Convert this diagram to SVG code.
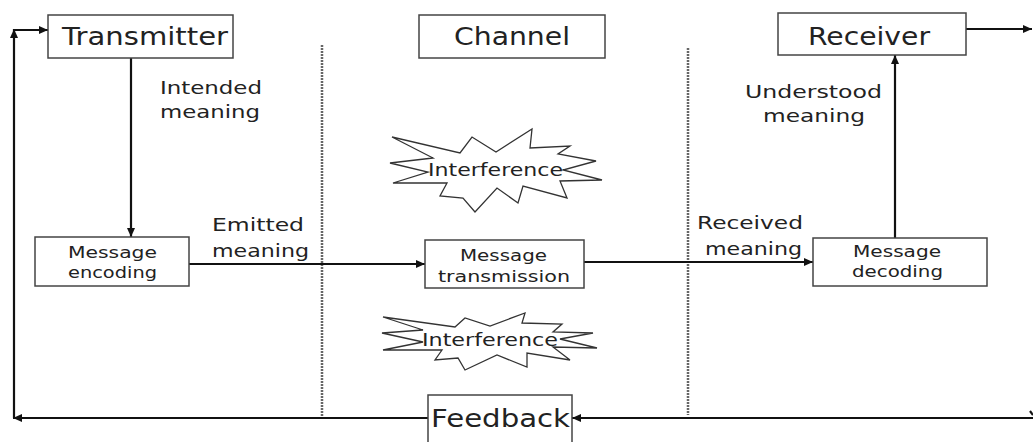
<svg xmlns="http://www.w3.org/2000/svg" width="1033" height="442" viewBox="0 0 1033 442">
  <style>
    .box { fill: #fff; stroke: #444; stroke-width: 1.5; }
    .big { font-family: "DejaVu Sans", sans-serif; font-size: 24px; fill: #222; }
    .lbl { font-family: "DejaVu Sans", sans-serif; font-size: 18px; fill: #222; }
    .sm { font-family: "DejaVu Sans", sans-serif; font-size: 15px; fill: #222; }
    .link { fill: none; stroke: #111; stroke-width: 2.2; }
    .divider { stroke: #666; stroke-width: 2.5; stroke-dasharray: 2 1; }
    .burst { fill: #fff; stroke: #333; stroke-width: 1.3; stroke-linejoin: miter; }
  </style>
  <defs>
    <marker id="arrow" markerUnits="userSpaceOnUse" markerWidth="10" markerHeight="10" viewBox="0 0 10 10" refX="9" refY="5" orient="auto">
      <path d="M0,1 L9,5 L0,9 Z" fill="#111"/>
    </marker>
  </defs>
  <rect width="1033" height="442" fill="#fff"/>

  <!-- zone dividers -->
  <g id="dividers">
    <line class="divider" x1="322" y1="45" x2="322" y2="418"/>
    <line class="divider" x1="688" y1="48" x2="688" y2="415"/>
  </g>

  <!-- connectors -->
  <g id="connectors">
    <line class="link" x1="131" y1="58" x2="131" y2="237" marker-end="url(#arrow)"/>
    <line class="link" x1="189" y1="264" x2="425" y2="264" marker-end="url(#arrow)"/>
    <line class="link" x1="584" y1="262" x2="813" y2="262" marker-end="url(#arrow)"/>
    <line class="link" x1="895" y1="238" x2="895" y2="55" marker-end="url(#arrow)"/>
    <line class="link" x1="966" y1="29" x2="1032" y2="29" marker-end="url(#arrow)"/>
    <line class="link" x1="1033" y1="418" x2="572" y2="418" marker-end="url(#arrow)"/>
    <line class="link" x1="428" y1="418" x2="13" y2="418" marker-end="url(#arrow)"/>
    <line class="link" x1="14" y1="418" x2="14" y2="29" marker-end="url(#arrow)"/>
    <line class="link" x1="13" y1="30" x2="48" y2="30" marker-end="url(#arrow)"/>
    <line class="link" x1="1030" y1="411" x2="1033" y2="415"/>
  </g>

  <g id="transmitter">
    <rect class="box" x="48" y="15" width="185" height="43"/>
    <text class="big" x="62" y="45" textLength="166" lengthAdjust="spacingAndGlyphs">Transmitter</text>
  </g>
  <g id="channel">
    <rect class="box" x="419" y="15" width="186" height="43"/>
    <text class="big" x="454" y="45" textLength="116" lengthAdjust="spacingAndGlyphs">Channel</text>
  </g>
  <g id="receiver">
    <rect class="box" x="778" y="13" width="188" height="42"/>
    <text class="big" x="808" y="45" textLength="122" lengthAdjust="spacingAndGlyphs">Receiver</text>
  </g>

  <g id="intended-meaning">
    <text class="lbl" x="160" y="94" textLength="102" lengthAdjust="spacingAndGlyphs">Intended</text>
    <text class="lbl" x="160" y="118" textLength="100" lengthAdjust="spacingAndGlyphs">meaning</text>
  </g>
  <g id="understood-meaning">
    <text class="lbl" x="745" y="98" textLength="137" lengthAdjust="spacingAndGlyphs">Understood</text>
    <text class="lbl" x="763" y="122" textLength="102" lengthAdjust="spacingAndGlyphs">meaning</text>
  </g>
  <g id="emitted-meaning">
    <text class="lbl" x="212" y="231" textLength="92" lengthAdjust="spacingAndGlyphs">Emitted</text>
    <text class="lbl" x="212" y="257" textLength="97" lengthAdjust="spacingAndGlyphs">meaning</text>
  </g>
  <g id="received-meaning">
    <text class="lbl" x="697" y="229" textLength="106" lengthAdjust="spacingAndGlyphs">Received</text>
    <text class="lbl" x="705" y="255" textLength="97" lengthAdjust="spacingAndGlyphs">meaning</text>
  </g>

  <g id="message-encoding">
    <rect class="box" x="35" y="237" width="154" height="49"/>
    <text class="sm" x="68" y="258" textLength="89" lengthAdjust="spacingAndGlyphs">Message</text>
    <text class="sm" x="68" y="278" textLength="89" lengthAdjust="spacingAndGlyphs">encoding</text>
  </g>
  <g id="message-transmission">
    <rect class="box" x="425" y="240" width="159" height="48"/>
    <text class="sm" x="460" y="261" textLength="87" lengthAdjust="spacingAndGlyphs">Message</text>
    <text class="sm" x="438" y="282" textLength="132" lengthAdjust="spacingAndGlyphs">transmission</text>
  </g>
  <g id="message-decoding">
    <rect class="box" x="813" y="238" width="174" height="48"/>
    <text class="sm" x="853" y="257" textLength="88" lengthAdjust="spacingAndGlyphs">Message</text>
    <text class="sm" x="852" y="277" textLength="91" lengthAdjust="spacingAndGlyphs">decoding</text>
  </g>

  <g id="interference-top">
    <polygon class="burst" points="392,137 460,153 472,137 496,152 532,129 530,148 570,146 558,154 596,161 563,170 602,180 560,181 567,198 523,186 518,203 497,188 475,212 463,198 440,196 447,183 393,183 428,172 390,163 433,158"/>
    <text class="lbl" x="428" y="176" textLength="135" lengthAdjust="spacingAndGlyphs">Interference</text>
  </g>
  <g id="interference-bottom">
    <polygon class="burst" points="383,317 455,327 465,318 490,326 525,313 522,323 562,324 553,332 593,333 560,339 597,348 553,347 570,360 527,353 527,367 497,355 465,370 458,358 435,360 442,350 383,350 423,342 382,333 423,330"/>
    <text class="lbl" x="422" y="346" textLength="136" lengthAdjust="spacingAndGlyphs">Interference</text>
  </g>

  <g id="feedback">
    <rect class="box" x="428" y="395" width="144" height="60"/>
    <text class="big" x="431" y="427" font-size="25" textLength="139" lengthAdjust="spacingAndGlyphs">Feedback</text>
  </g>
</svg>
